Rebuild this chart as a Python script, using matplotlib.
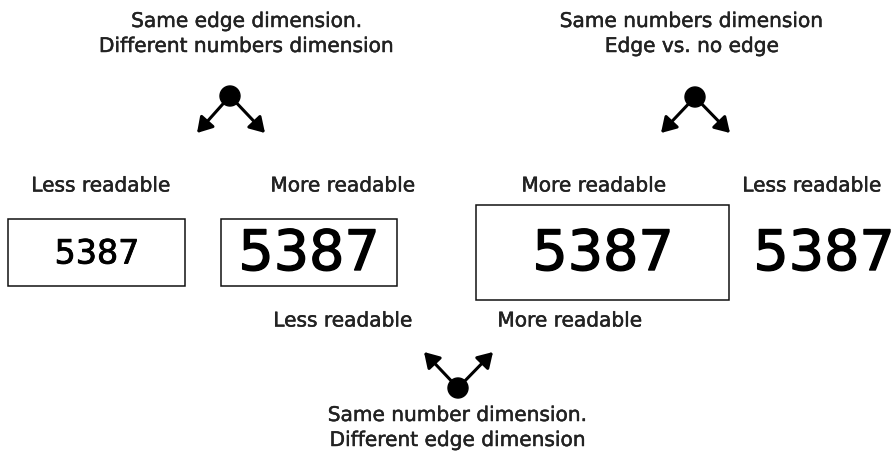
import matplotlib.pyplot as plt
import matplotlib.patheffects as pe
from matplotlib.patches import Rectangle, Circle

# texts of the diagram
titles = ["Same edge dimension.\nDifferent numbers dimension",
          "Same numbers dimension\nEdge vs. no edge",
          "Same number dimension.\nDifferent edge dimension"]
top_labels = ["Less readable", "More readable", "More readable", "Less readable"]
bottom_labels = ["Less readable", "More readable"]
number = "5387"
number_sizes = [24, 40, 40, 40]
has_edge = [True, True, True, False]

# layout (pixel coords, y going down)
W, H = 896, 453
fig = plt.figure(figsize=(W / 100, H / 100), dpi=100)
ax = fig.add_axes([0, 0, 1, 1])
ax.set_xlim(0, W)
ax.set_ylim(H, 0)
ax.axis("off")

grey = "#222222"
lab_fs = 14.5
lab_fx = [pe.withStroke(linewidth=0.35, foreground=grey)]

# boxes: (x0, y0, x1, y1)
boxes = [(8, 219, 185, 286), (221, 219, 397, 286), (476, 205, 729, 300), None]
num_x = [97, 309, 603, 824]
num_y = [254, 255, 255, 255]
top_x = [101, 343, 594, 812]

for i in range(4):
    ax.text(top_x[i], 186, top_labels[i], ha="center", va="center",
            fontsize=lab_fs, color=grey, path_effects=lab_fx)
    if has_edge[i]:
        x0, y0, x1, y1 = boxes[i]
        ax.add_patch(Rectangle((x0, y0), x1 - x0, y1 - y0, fill=False,
                               ec="#111111", lw=1.1))
    sw = 1.0 if number_sizes[i] > 30 else 0.6
    ax.text(num_x[i], num_y[i], number, ha="center", va="center",
            fontsize=number_sizes[i], color="black",
            path_effects=[pe.withStroke(linewidth=sw, foreground="black")])

ax.text(343, 321, bottom_labels[0], ha="center", va="center", fontsize=lab_fs,
        color=grey, path_effects=lab_fx)
ax.text(570, 321, bottom_labels[1], ha="center", va="center", fontsize=lab_fs,
        color=grey, path_effects=lab_fx)

# titles
for (x, y), t in zip([(247, 34), (692, 34), (458, 428)], titles):
    ax.text(x, y, t, ha="center", va="center", fontsize=lab_fs, color=grey,
            linespacing=1.4, path_effects=lab_fx)

# dots with two arrows each
forks = [((230, 96), (197, 133), (265, 133)),
         ((695, 97), (661, 133), (730, 133)),
         ((458, 388), (424, 352), (493, 352))]
for c, a, b in forks:
    ax.add_patch(Circle(c, 10, color="black", zorder=3))
    for tip in (a, b):
        ax.annotate("", xy=tip, xytext=c,
                    arrowprops=dict(arrowstyle="-|>,head_length=0.9,head_width=0.55",
                                    color="black", lw=2.2, shrinkA=0, shrinkB=0))

fig.savefig("out.png", dpi=100)
